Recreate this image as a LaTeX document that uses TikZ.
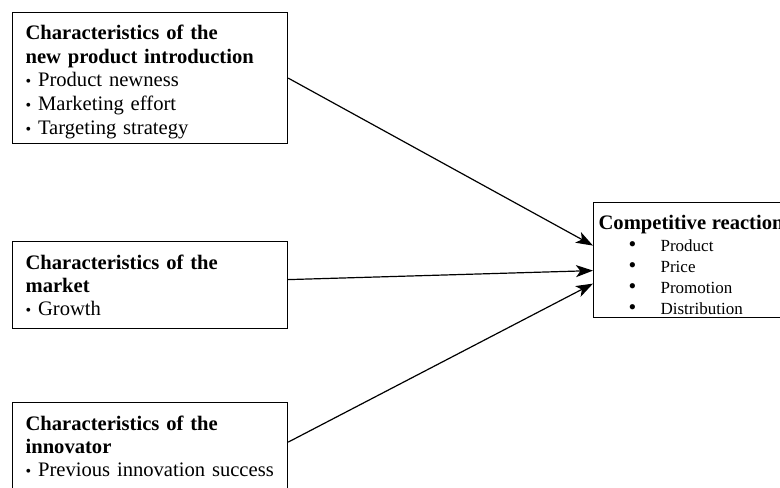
\documentclass[tikz,border=0pt]{standalone}
\usepackage{fontspec}
\setmainfont{Liberation Serif}
\usetikzlibrary{arrows.meta}

\newcommand{\lbul}{{\footnotesize\textbullet}\ }
\newcommand{\rbul}[1]{\makebox[31pt][l]{\hspace*{15pt}{\fontsize{11}{11}\selectfont\textbullet}}#1}

\begin{document}
\begin{tikzpicture}[x=0.5pt, y=-0.5pt,
  factor/.style={draw, line width=0.6pt, anchor=north west, align=left,
    text width=124.5pt, inner xsep=6.5pt, inner ysep=4pt,
    font=\fontsize{10.3}{11.5}\selectfont},
  outcome/.style={draw, line width=0.6pt, anchor=north west, align=left,
    text width=130pt, inner xsep=2.5pt, inner ysep=1pt, minimum height=57.5pt,
    font=\fontsize{8.5}{10.5}\selectfont},
  link/.style={line width=0.6pt, -{Stealth[length=8.5pt, width=6pt, inset=2.2pt]}}]
\useasboundingbox (0,0) rectangle (780,487);

% the three groups of characteristics
\node[factor, minimum height=65.5pt, inner ysep=1.5pt, font=\fontsize{10.3}{11.9}\selectfont] (intro) at (12,12)
  {\rule{0pt}{11pt}\textbf{Characteristics of the}\\
   \textbf{new product introduction}\\
   \lbul Product newness\\
   \lbul Marketing effort\\
   \lbul Targeting strategy};
\node[factor, minimum height=43.5pt] (market) at (12,241)
  {\textbf{Characteristics of the}\\
   \textbf{market}\\
   \lbul Growth};
\node[factor, minimum height=44pt] (innov) at (12,402)
  {\textbf{Characteristics of the}\\
   \textbf{innovator}\\
   \lbul Previous innovation success};

% the reaction
\node[outcome] (reaction) at (593,202)
  {\rule{0pt}{11.5pt}{\fontsize{10.3}{11}\selectfont\bfseries Competitive reaction}\\[0.5pt]
   \rbul{Product}\\
   \rbul{Price}\\
   \rbul{Promotion}\\
   \rbul{Distribution}};

% arrows
\draw[link] (intro.east) -- ([yshift=7.25pt]reaction.west);
\draw[link] ([yshift=2.75pt]market.east) -- ([yshift=-5.25pt]reaction.west);
\draw[link] ([yshift=2.25pt]innov.east) -- ([yshift=-11.75pt]reaction.west);
\end{tikzpicture}
\end{document}
